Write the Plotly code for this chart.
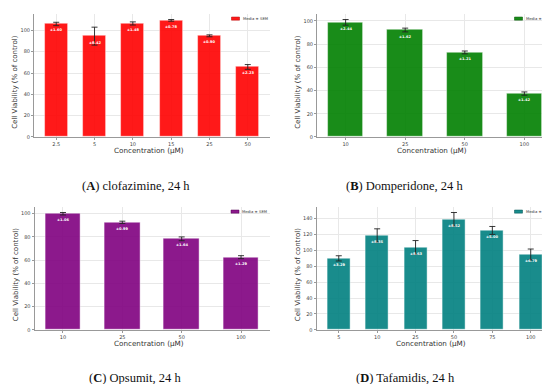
import plotly.graph_objects as go

# ---------------- data ----------------
conc_A = ["2.5", "5", "10", "15", "25", "50"]
mean_A = [106.0, 94.6, 106.5, 109.4, 94.9, 65.7]
sem_A = [1.60, 8.42, 1.48, 0.78, 0.90, 2.23]

conc_B = ["10", "25", "50", "100"]
mean_B = [98.8, 92.2, 72.9, 37.4]
sem_B = [2.44, 1.62, 1.21, 1.42]

conc_C = ["10", "25", "50", "100"]
mean_C = [99.9, 92.5, 78.3, 62.5]
sem_C = [1.06, 0.99, 1.64, 1.29]

conc_D = ["5", "10", "25", "50", "75", "100"]
mean_D = [90.0, 118.9, 103.8, 139.3, 125.2, 95.0]
sem_D = [3.29, 8.35, 8.63, 8.52, 5.00, 6.79]

legend_label = "Media ± SEM"
captions = ["<b>A</b>", "<b>B</b>", "<b>C</b>", "<b>D</b>"]
drugs = ["clofazimine, 24 h", "Domperidone, 24 h", "Opsumit, 24 h", "Tafamidis, 24 h"]
colors = ["rgba(255,0,0,0.9)", "rgba(0,128,0,0.9)", "rgba(128,0,128,0.9)", "rgba(0,128,128,0.9)"]
edge_colors = ["#b00000", "#005000", "#500050", "#005050"]

W, H = 550, 384
def px(x):
    return x / W
def py(y):
    return 1 - y / H

panels = [
    dict(conc=conc_A, mean=mean_A, sem=sem_A, x0=26, x1=262, y0=5.7, y1=130, cap=(127.5, 179)),
    dict(conc=conc_B, mean=mean_B, sem=sem_B, x0=309, x1=545, y0=5.7, y1=130, cap=(396, 179)),
    dict(conc=conc_C, mean=mean_C, sem=sem_C, x0=26.5, x1=261.5, y0=200.2, y1=324.3, cap=(127, 373)),
    dict(conc=conc_D, mean=mean_D, sem=sem_D, x0=308.5, x1=545, y0=200.2, y1=324.3, cap=(397, 373)),
]

fig = go.Figure()
annotations = []
shapes = []
layout = {}
axfont = dict(family="DejaVu Sans", size=5, color="#444")
for i, p in enumerate(panels):
    n = len(p["conc"])
    sfx = "" if i == 0 else str(i + 1)
    xa, ya = "x" + sfx, "y" + sfx
    xs = list(range(n))
    fig.add_trace(go.Bar(
        x=xs, y=p["mean"], width=0.6, xaxis=xa, yaxis=ya,
        marker=dict(color=colors[i], line=dict(color="rgba(255,255,255,0.55)", width=0.8)),
        error_y=dict(type="data", array=p["sem"], visible=True, color="#222", thickness=0.9, width=3),
        name=legend_label, showlegend=False,
    ))
    ymax = max(m + s for m, s in zip(p["mean"], p["sem"])) * 1.05
    span = (n - 1) + 0.6
    marg = 0.05 * span
    layout["xaxis" + sfx] = dict(
        domain=[px(p["x0"]), px(p["x1"])], anchor=ya,
        range=[-0.3 - marg, n - 1 + 0.3 + marg],
        tickvals=xs, ticktext=p["conc"], tickfont=axfont,
        showline=True, linecolor="#999", linewidth=1,
        ticks="outside", ticklen=2, tickcolor="#999", tickwidth=0.8,
        showgrid=True, gridcolor="#e8e8e8", gridwidth=0.8, zeroline=False,
    )
    layout["yaxis" + sfx] = dict(
        domain=[py(p["y1"]), py(p["y0"])], anchor=xa,
        range=[0, ymax], dtick=20, tickfont=axfont,
        showline=True, linecolor="#999", linewidth=1,
        ticks="outside", ticklen=2, tickcolor="#999", tickwidth=0.8,
        showgrid=True, gridcolor="#e8e8e8", gridwidth=0.8, zeroline=False,
    )
    # SEM labels inside bars
    for xi, m, s in zip(xs, p["mean"], p["sem"]):
        annotations.append(dict(
            x=xi, y=m, xref=xa, yref=ya, text="<b>±%.2f</b>" % s, showarrow=False,
            yanchor="middle", yshift=-6.5,
            font=dict(family="DejaVu Sans", size=3.6, color="white"),
        ))
    # legend (patch + label)
    ly = p["y0"] + 5
    shapes.append(dict(
        type="rect", xref="paper", yref="paper",
        x0=px(p["x1"] - 38.5), x1=px(p["x1"] - 30.5), y0=py(ly + 1.6), y1=py(ly - 1.6),
        fillcolor=colors[i], line=dict(color=edge_colors[i], width=0.5),
    ))
    annotations.append(dict(
        x=px(p["x1"] - 29.5), y=py(ly), xref="paper", yref="paper",
        text=legend_label, showarrow=False, xanchor="left", yanchor="middle",
        font=dict(family="DejaVu Sans", size=3.8, color="#333"),
    ))
    cx = (p["x0"] + p["x1"]) / 2
    cy = (p["y0"] + p["y1"]) / 2
    annotations.append(dict(
        x=px(cx - 3.5), y=py(p["y1"] + 14), xref="paper", yref="paper",
        text="Concentration (μM)", showarrow=False, xanchor="center", yanchor="middle",
        font=dict(family="DejaVu Sans", size=7.2, color="#333"),
    ))
    annotations.append(dict(
        x=px(p["x0"] - 18.5), y=py(cy + 7), xref="paper", yref="paper",
        text="Cell Viability (% of control)", showarrow=False, textangle=-90,
        xanchor="center", yanchor="middle",
        font=dict(family="DejaVu Sans", size=7.0, color="#333"),
    ))
    annotations.append(dict(
        x=px(p["cap"][0]), y=py(p["cap"][1]), xref="paper", yref="paper",
        text="(" + captions[i] + ") " + drugs[i], showarrow=False,
        xanchor="center", yanchor="middle",
        font=dict(family="Liberation Serif", size=12.5, color="#111"),
    ))

fig.update_layout(
    width=W, height=H, margin=dict(l=0, r=0, t=0, b=0),
    paper_bgcolor="white", plot_bgcolor="white", showlegend=False,
    annotations=annotations, shapes=shapes, bargap=0, **layout,
)
fig.write_html("out.html")
